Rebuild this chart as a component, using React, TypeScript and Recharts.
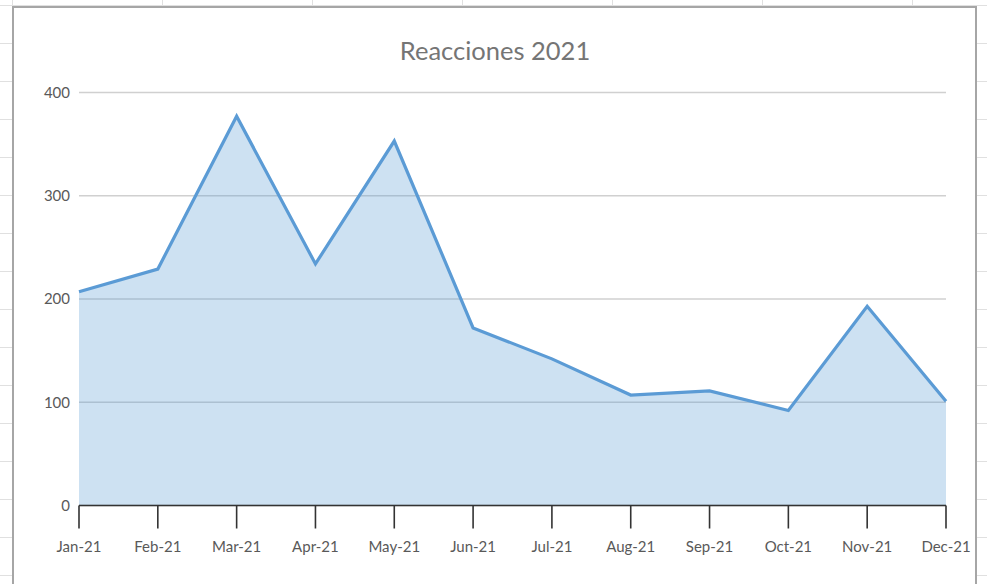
import React from "react"
import { AreaChart, Area, XAxis, YAxis, CartesianGrid } from "recharts"

const months = ["Jan-21", "Feb-21", "Mar-21", "Apr-21", "May-21", "Jun-21", "Jul-21", "Aug-21", "Sep-21", "Oct-21", "Nov-21", "Dec-21"]
const reacciones = [207, 229, 377, 234, 353, 172, 142, 107, 111, 92, 193, 101]
const yTicks = [0, 100, 200, 300, 400]
const title = "Reacciones 2021"

const data = months.map((m, i) => ({ mes: m, valor: reacciones[i] }))

const FONT = "Lato, 'Open Sans', sans-serif"

export default function App() {
  return (
    <div
      style={{
        position: "fixed",
        left: 0,
        top: 0,
        width: 987,
        height: 584,
        overflow: "hidden",
        backgroundColor: "#fff",
        // spreadsheet cells behind the chart
        backgroundImage:
          "linear-gradient(#e0e0e0 0 1px, transparent 1px), linear-gradient(to right, #e0e0e0 0 1px, transparent 1px)",
        backgroundSize: "100% 38px, 150px 100%",
        backgroundPosition: "0 5px, 12px 0",
      }}
    >
      <div
        style={{
          position: "absolute",
          left: 12,
          top: 6,
          width: 961,
          height: 600,
          border: "2px solid #a6a6a6",
          background: "#fff",
        }}
      />
      <div style={{ position: "absolute", left: 0, top: 0 }}>
        <AreaChart
          width={987}
          height={584}
          data={data}
          margin={{ top: 92.5, right: 41, bottom: 18.5, left: 29 }}
        >
          <CartesianGrid horizontal vertical={false} stroke="#d0d0d0" strokeWidth={1.3} />
          <XAxis
            dataKey="mes"
            height={60}
            interval={0}
            stroke="#333"
            strokeWidth={1.6}
            tickSize={23}
            tickMargin={13}
            tick={{ fill: "#595959", fontSize: 15, fontFamily: FONT }}
          />
          <YAxis
            width={50}
            domain={[0, 400]}
            ticks={yTicks}
            axisLine={false}
            tickLine={false}
            tickSize={0}
            tickMargin={9}
            tick={{ fill: "#595959", fontSize: 15, fontFamily: FONT }}
          />
          <Area
            type="linear"
            dataKey="valor"
            stroke="#5b9bd5"
            strokeWidth={3.2}
            fill="#5b9bd5"
            fillOpacity={0.3}
            dot={false}
            activeDot={false}
            isAnimationActive={false}
          />
        </AreaChart>
      </div>
      <svg width={987} height={80} style={{ position: "absolute", left: 0, top: 0 }}>
        <text x={495} y={60} textAnchor="middle" fill="#757575" fontSize={25.5} fontFamily={FONT}>
          {title}
        </text>
      </svg>
    </div>
  )
}
